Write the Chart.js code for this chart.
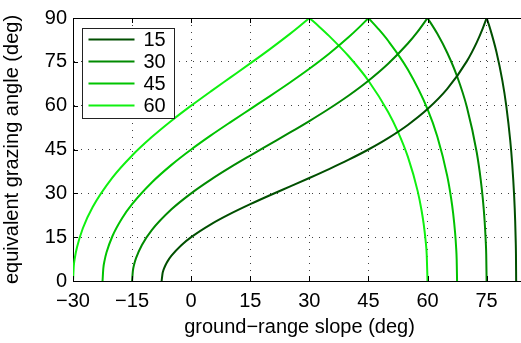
<!DOCTYPE html>
<html>
<head>
<meta charset="utf-8">
<script src="https://cdn.jsdelivr.net/npm/chart.js@4.4.0/dist/chart.umd.min.js"></script>
<style>
  html, body { margin: 0; padding: 0; background: #fff; overflow: hidden; }
</style>
</head>
<body>
<canvas id="grafico" width="530" height="343"></canvas>
<script>
// valores (graus)
const angulos = ["15", "30", "45", "60"];
const xTicks = [-30, -15, 0, 15, 30, 45, 60, 75];
const yTicks = [0, 15, 30, 45, 60, 75, 90];

// 15 deg
const slope15Sobe = [-7.5, -7.25, -7, -6.5, -6, -5, -2.5, 0, 5, 10, 15, 20, 25, 30, 35, 40, 45, 50, 55, 60, 65, 70, 72.5, 74, 75];
const angle15Sobe = [0, 2.75, 3.88, 5.49, 6.72, 8.67, 12.25, 15, 19.39, 23.03, 26.29, 29.35, 32.3, 35.26, 38.31, 41.52, 45, 48.89, 53.4, 58.83, 65.74, 75.24, 81.66, 86.37, 90];
const slope15Desce = [75, 76, 77.5, 79, 80, 81, 81.5, 82, 82.25, 82.4, 82.45, 82.5];
const angle15Desce = [90, 85.86, 78.37, 68.56, 59.87, 48.07, 40.02, 28.88, 20.64, 13.13, 9.31, 0];

// 30 deg
const slope30Sobe = [-15, -14.8, -14.5, -14, -12.5, -10, -5, 0, 5, 10, 15, 20, 25, 30, 35, 40, 45, 50, 55, 57.5, 60];
const angle30Sobe = [0, 3.5, 5.54, 7.83, 12.35, 17.41, 24.53, 30, 34.69, 38.95, 42.94, 46.84, 50.74, 54.74, 58.94, 63.48, 68.53, 74.33, 81.26, 85.34, 90];
const slope30Desce = [60, 62.5, 65, 67.5, 70, 72.5, 73.5, 74, 74.5, 74.8, 74.9, 75];
const angle30Desce = [90, 84.58, 78.1, 70.06, 59.49, 43.97, 34.72, 28.64, 20.46, 13.02, 9.23, 0];

// 45 deg
const slope45Sobe = [-22.5, -22.3, -22, -21.5, -20, -17.5, -15, -10, -5, 0, 5, 10, 15, 20, 25, 30, 35, 40, 42.5, 45];
const angle45Sobe = [0, 4.36, 6.88, 9.72, 15.32, 21.56, 26.29, 33.72, 39.74, 45, 49.82, 54.38, 58.83, 63.27, 67.83, 72.61, 77.76, 83.47, 86.61, 90];
const slope45Desce = [45, 47.5, 50, 55, 60, 62.5, 65, 66, 66.5, 67, 67.25, 67.4, 67.5];
const angle45Desce = [90, 86.3, 82.21, 72.38, 58.83, 49.37, 35.97, 28.23, 23.2, 16.52, 11.72, 7.43, 0];

// 60 deg
const slope60Sobe = [-30, -29.8, -29.5, -29, -27.5, -25, -20, -15, -10, -5, 0, 5, 10, 15, 20, 25, 27.5, 30];
const angle60Sobe = [0, 5.14, 8.12, 11.46, 18.06, 25.33, 35.39, 42.94, 49.25, 54.85, 60, 64.9, 69.68, 74.46, 79.35, 84.48, 87.18, 90];
const slope60Desce = [30, 32.5, 35, 40, 45, 50, 52.5, 55, 57.5, 58.5, 59, 59.5, 59.8, 60];
const angle60Desce = [90, 87.04, 83.89, 76.9, 68.53, 57.85, 51.05, 42.54, 30.75, 24.04, 19.73, 14.02, 8.9, 0];

const cores = ["#004f00", "#008a00", "#00c400", "#10f010"];

const curvas = [
  [slope15Sobe, angle15Sobe, slope15Desce, angle15Desce],
  [slope30Sobe, angle30Sobe, slope30Desce, angle30Desce],
  [slope45Sobe, angle45Sobe, slope45Desce, angle45Desce],
  [slope60Sobe, angle60Sobe, slope60Desce, angle60Desce],
];

function pontos(xs, ys) {
  return xs.map((x, i) => ({ x: x, y: ys[i] }));
}

let datasets = [];
curvas.forEach((c, i) => {
  datasets.push({ label: angulos[i], data: pontos(c[0], c[1]), borderColor: cores[i] });
  datasets.push({ label: angulos[i], data: pontos(c[2], c[3]), borderColor: cores[i] });
});

const fonte = { family: "'Liberation Sans', Arial, sans-serif", size: 20 };
const menos = (v) => String(v).replace("-", "\u2212");

// legenda com caixa + ticks para dentro, estilo matlab
const extras = {
  id: "extras",
  afterDraw(chart) {
    const ctx = chart.ctx;
    const a = chart.chartArea;
    const sx = chart.scales.x, sy = chart.scales.y;
    ctx.save();
    ctx.strokeStyle = "#000";
    ctx.lineWidth = 1;
    ctx.beginPath();
    ctx.moveTo(a.left, Math.round(a.top) + 0.5);
    ctx.lineTo(a.right, Math.round(a.top) + 0.5);
    xTicks.forEach((v) => {
      const px = Math.round(sx.getPixelForValue(v)) + 0.5;
      ctx.moveTo(px, a.bottom);
      ctx.lineTo(px, a.bottom - 5);
      ctx.moveTo(px, a.top);
      ctx.lineTo(px, a.top + 5);
    });
    yTicks.forEach((v) => {
      const py = Math.round(sy.getPixelForValue(v)) + 0.5;
      ctx.moveTo(a.left, py);
      ctx.lineTo(a.left + 5, py);
    });
    ctx.stroke();

    // caixa da legenda
    const bx = Math.round(a.left) + 9.5, by = Math.round(a.top) + 10.5;
    ctx.fillStyle = "#fff";
    ctx.fillRect(bx, by, 92, 90);
    ctx.strokeStyle = "#222";
    ctx.strokeRect(bx, by, 92, 90);
    ctx.font = "20px 'Liberation Sans', Arial, sans-serif";
    ctx.textBaseline = "middle";
    ctx.fillStyle = "#000";
    angulos.forEach((t, i) => {
      const y = by + 11 + i * 22;
      ctx.strokeStyle = cores[i];
      ctx.lineWidth = 2;
      ctx.beginPath();
      ctx.moveTo(bx + 6, y);
      ctx.lineTo(bx + 52, y);
      ctx.stroke();
      ctx.fillText(t, bx + 61, y + 1);
    });
    ctx.restore();
  },
};

new Chart(document.getElementById("grafico"), {
  type: "line",
  data: { datasets: datasets },
  options: {
    responsive: false,
    animation: false,
    layout: { padding: { top: 9, right: 4, left: 0, bottom: 0 } },
    elements: {
      line: { borderWidth: 2, fill: false, cubicInterpolationMode: "monotone" },
      point: { radius: 0 },
    },
    plugins: { legend: { display: false }, tooltip: { enabled: false } },
    scales: {
      x: {
        type: "linear",
        min: -30,
        max: 85,
        afterBuildTicks: (s) => { s.ticks = xTicks.map((v) => ({ value: v })); },
        afterFit: (s) => { s.height = 62; },
        ticks: { font: fonte, color: "#000", padding: 8, maxRotation: 0, callback: menos },
        grid: { color: "rgba(0,0,0,0.75)", lineWidth: 1, drawTicks: false },
        border: { color: "#000", width: 1, dash: [1, 6] },
        title: { display: true, text: "ground\u2212range slope (deg)", font: fonte, color: "#000", padding: { top: 0, bottom: 4 } },
      },
      y: {
        min: 0,
        max: 90,
        afterBuildTicks: (s) => { s.ticks = yTicks.map((v) => ({ value: v })); },
        afterFit: (s) => { s.width = 73; },
        ticks: { font: fonte, color: "#000", padding: 6, callback: menos },
        grid: { color: "rgba(0,0,0,0.75)", lineWidth: 1, drawTicks: false },
        border: { color: "#000", width: 1, dash: [1, 6] },
        title: { display: true, text: "equivalent grazing angle (deg)", font: fonte, color: "#000", padding: { top: 0, bottom: 2 } },
      },
    },
  },
  plugins: [extras],
});
</script>
</body>
</html>
